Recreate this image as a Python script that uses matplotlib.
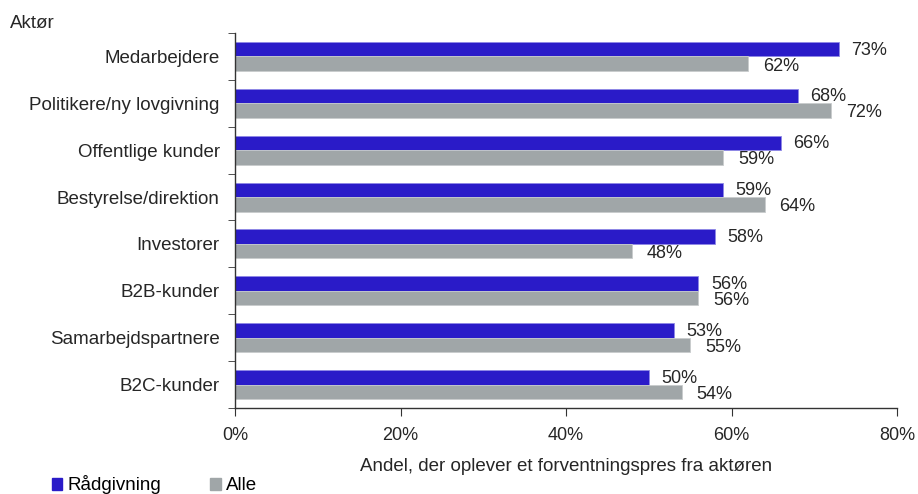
import numpy as np
import matplotlib.pyplot as plt
import matplotlib as mpl
from matplotlib.patches import Patch

mpl.rcParams["font.family"] = ["Liberation Sans", "DejaVu Sans"]
mpl.rcParams["font.size"] = 13.5

actors = ["Medarbejdere", "Politikere/ny lovgivning", "Offentlige kunder",
          "Bestyrelse/direktion", "Investorer", "B2B-kunder",
          "Samarbejdspartnere", "B2C-kunder"]
raadgivning = [73, 68, 66, 59, 58, 56, 53, 50]
alle = [62, 72, 59, 64, 48, 56, 55, 54]

BLUE = "#2a1bc8"
GREY = "#a0a6a8"
TXT = "#262626"

fig = plt.figure(figsize=(9.18, 4.94), dpi=100)
ax = fig.add_axes([235 / 918, 1 - 408 / 494, (897 - 235) / 918, (408 - 33) / 494])

y = np.arange(len(actors))
h = 0.31
ax.barh(y - h / 2, raadgivning, height=h, color=BLUE, edgecolor="#8f88e6", linewidth=0.6)
ax.barh(y + h / 2, alle, height=h, color=GREY, edgecolor="#c8cccd", linewidth=0.6)

# value labels just right of each bar end
for yi, v in zip(y, raadgivning):
    ax.text(v + 1.5, yi - h / 2 + 0.02, f"{v}%", va="center", ha="left", color=TXT, fontsize=13)
for yi, v in zip(y, alle):
    ax.text(v + 1.8, yi + h / 2 + 0.05, f"{v}%", va="center", ha="left", color=TXT, fontsize=13)

ax.set_ylim(len(actors) - 0.5, -0.5)
ax.set_xlim(0, 80)
ax.set_xticks([0, 20, 40, 60, 80])
ax.set_xticklabels([f"{t}%" for t in [0, 20, 40, 60, 80]], color=TXT, fontsize=13)
ax.set_yticks(y)
ax.set_yticklabels(actors, color=TXT)
ax.set_yticks(np.arange(len(actors) + 1) - 0.5, minor=True)
ax.tick_params(axis="y", which="major", length=0, pad=11)
ax.tick_params(axis="y", which="minor", length=5, direction="out", color="#333333")
ax.tick_params(axis="x", length=6, direction="out", color="#333333", pad=8)

for s in ["top", "right"]:
    ax.spines[s].set_visible(False)
for s in ["left", "bottom"]:
    ax.spines[s].set_color("#333333")
    ax.spines[s].set_linewidth(1.0)

ax.set_xlabel("Andel, der oplever et forventningspres fra aktøren", color=TXT, labelpad=10)
fig.text(10 / 918, 1 - 23 / 494, "Aktør", ha="left", va="center", color=TXT)

handles = [Patch(color=BLUE, label="Rådgivning"), Patch(color=GREY, label="Alle")]
fig.legend(handles=handles, loc="lower left", bbox_to_anchor=(35 / 918, -0.035),
           ncol=2, frameon=False, handlelength=0.55, handleheight=0.6,
           handletextpad=0.3, columnspacing=2.6)

fig.savefig("out.png", dpi=100)
